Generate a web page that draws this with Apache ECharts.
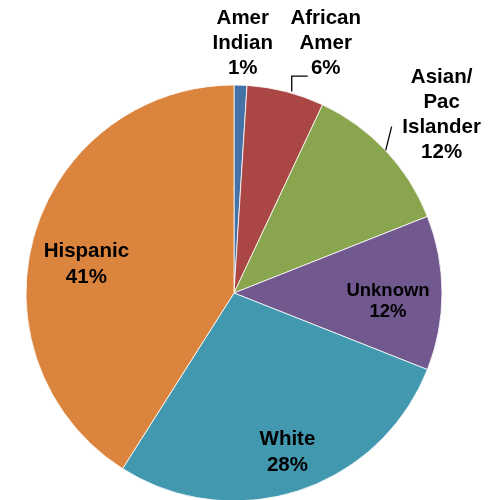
<!DOCTYPE html>
<html>
<head>
<meta charset="utf-8">
<script src="https://cdn.jsdelivr.net/npm/echarts@6/dist/echarts.min.js"></script>
<style>
  html, body { margin: 0; padding: 0; background: #ffffff; }
  #chart { width: 496px; height: 500px; }
</style>
</head>
<body>
<div id="chart"></div>
<script>
// Enrollment by race / ethnicity (percent of total)
var categories = ['Amer Indian', 'African Amer', 'Asian/Pac Islander', 'Unknown', 'White', 'Hispanic'];
var nameLines = [['Amer', 'Indian'], ['African', 'Amer'], ['Asian/', 'Pac', 'Islander'], ['Unknown'], ['White'], ['Hispanic']];
var shares = [1, 6, 12, 12, 28, 41];
var colors = ['#4572A7', '#AA4643', '#89A54E', '#71588F', '#4198AF', '#DB843D'];

// which slices are labelled outside the pie (with leader lines) and which inside
var outsideSlices = [0, 1, 2];
var insideSlices = [3, 4, 5];

var FONT = '"Liberation Sans", Arial, sans-serif';
var CENTER = [234, 293];
var RADIUS = 208;

function labelText(i) {
  return nameLines[i].join('\n') + '\n' + shares[i] + '%';
}

var baseData = categories.map(function (name, i) {
  var isOut = outsideSlices.indexOf(i) >= 0;
  var item = {
    name: name,
    value: shares[i],
    itemStyle: { color: colors[i] },
    label: { show: isOut },
    labelLine: { show: isOut }
  };
  if (i === 0) { item.labelLine = { show: false, length: 8, length2: 0 }; }
  if (i === 1) { item.labelLine = { show: true, length: 16, length2: 16 }; }
  if (i === 2) { item.labelLine = { show: true, length: 24, length2: 0 }; }
  return item;
});

// transparent ring used only to carry the in-slice labels a bit further out
var ringData = categories.map(function (name, i) {
  var isIn = insideSlices.indexOf(i) >= 0;
  return {
    name: name,
    value: shares[i],
    label: {
      show: isIn,
      fontSize: i === 3 ? 18.5 : 20.5,
      lineHeight: i === 3 ? 21 : 26
    }
  };
});

// place outside labels relative to the leader-line anchor computed by the pie
function outsideLayout(p) {
  var pts = p.labelLinePoints;
  if (!pts || !pts.length) { return {}; }
  var edge = pts[0];
  var end = pts[pts.length - 1];
  if (p.dataIndex === 0) {
    return { x: end[0] + 2, y: end[1] + 4, align: 'center', verticalAlign: 'bottom', labelLinePoints: pts };
  }
  if (p.dataIndex === 1) {
    var bend = [edge[0] + 6, end[1]];
    return {
      x: end[0] + 20, y: end[1] + 5, align: 'center', verticalAlign: 'bottom',
      labelLinePoints: [[edge[0] + 6, edge[1]], bend, [end[0] + 2, end[1]]]
    };
  }
  if (p.dataIndex === 2) {
    var top = [edge[0] + 6, edge[1] - 24];
    return {
      x: edge[0] + 56, y: edge[1] - 36, align: 'center', verticalAlign: 'middle',
      labelLinePoints: [edge, top]
    };
  }
  return {};
}

// small nudges for the in-slice labels
var insideNudge = { 3: [-6, 8], 4: [4, 7], 5: [6, 16] };
function insideLayout(p) {
  var n = insideNudge[p.dataIndex];
  return n ? { dx: n[0], dy: n[1] } : {};
}

var chart = echarts.init(document.getElementById('chart'), null, { renderer: 'canvas' });
chart.setOption({
  animation: false,
  backgroundColor: '#ffffff',
  series: [
    {
      type: 'pie',
      center: CENTER,
      radius: RADIUS,
      startAngle: 90,
      clockwise: true,
      silent: true,
      avoidLabelOverlap: false,
      data: baseData,
      itemStyle: { borderColor: '#ffffff', borderWidth: 0.8 },
      label: {
        position: 'outside',
        formatter: function (p) { return labelText(p.dataIndex); },
        color: '#000000',
        fontFamily: FONT,
        fontWeight: 'bold',
        fontSize: 20.5,
        lineHeight: 25
      },
      labelLine: {
        lineStyle: { color: '#000000', width: 1.3 }
      },
      labelLayout: outsideLayout,
      emphasis: { disabled: true }
    },
    {
      type: 'pie',
      center: CENTER,
      radius: [106, RADIUS],
      startAngle: 90,
      clockwise: true,
      silent: true,
      avoidLabelOverlap: false,
      data: ringData,
      itemStyle: { color: 'rgba(0,0,0,0)', borderWidth: 0 },
      label: {
        position: 'inside',
        formatter: function (p) { return labelText(p.dataIndex); },
        color: '#000000',
        fontFamily: FONT,
        fontWeight: 'bold'
      },
      labelLine: { show: false },
      labelLayout: insideLayout,
      emphasis: { disabled: true }
    }
  ]
});
</script>
</body>
</html>
